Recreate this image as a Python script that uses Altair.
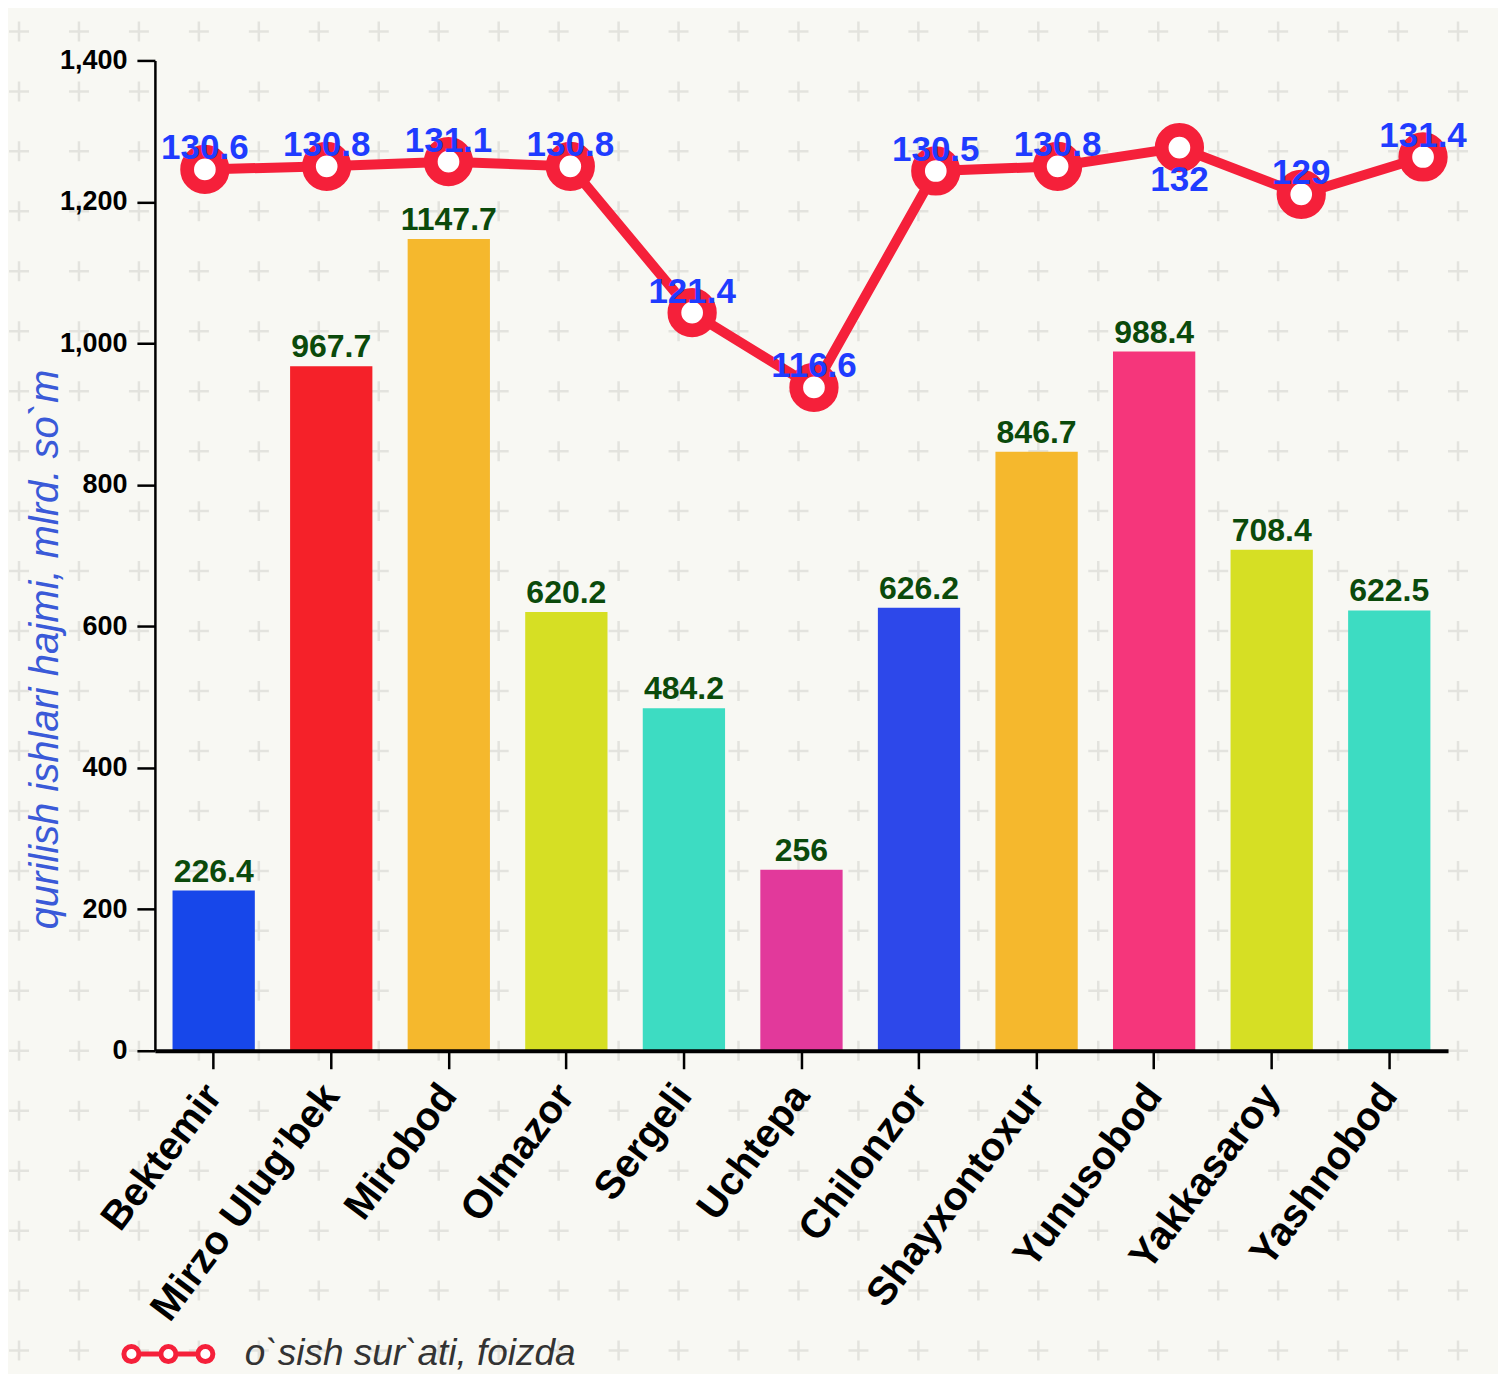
import altair as alt
import pandas as pd
import numpy as np

# ---------------- data ----------------
districts = ["Bektemir", "Mirzo Ulug’bek", "Mirobod", "Olmazor", "Sergeli", "Uchtepa",
             "Chilonzor", "Shayxontoxur", "Yunusobod", "Yakkasaroy", "Yashnobod"]
volume = [226.4, 967.7, 1147.7, 620.2, 484.2, 256, 626.2, 846.7, 988.4, 708.4, 622.5]
growth = [130.6, 130.8, 131.1, 130.8, 121.4, 116.6, 130.5, 130.8, 132, 129, 131.4]
bar_colors = ["#1747ea", "#f52129", "#f5b82d", "#d6df24", "#3ddcc2", "#e2399b",
              "#2d48ea", "#f5b82d", "#f5367b", "#d6df24", "#3ddcc2"]
y_ticks = [0, 200, 400, 600, 800, 1000, 1200, 1400]
y_title = "qurilish ishlari hajmi, mlrd. so`m"
legend_label = "o`sish sur`ati, foizda"

# ---------------- style ----------------
FONT = "Liberation Sans"
RED = "#f5203a"
W, H = 1294, 991

df = pd.DataFrame({
    "district": districts,
    "volume": volume,
    "growth": growth,
    "vol_label": ["{:g}".format(v) for v in volume],
    "gr_label": ["{:g}".format(v) for v in growth],
    "series": [legend_label] * len(districts),
})

# decorative "+" background pattern
cols, rows = np.meshgrid(np.arange(25), np.arange(23))
grid = pd.DataFrame({"cx": cols.ravel(), "cy": rows.ravel()})
cross = alt.Chart(grid).mark_point(
    shape="M-1,0H1M0,-1V1", size=400, strokeWidth=2.5, stroke="#e3e3de",
    filled=False, opacity=1
).encode(
    x=alt.X("cx:Q", scale=alt.Scale(domain=[0, 24], range=[-136, 1304], nice=False, zero=False), axis=None),
    y=alt.Y("cy:Q", scale=alt.Scale(domain=[0, 22], range=[-29, 1291], nice=False, zero=False), axis=None),
)

# ---------------- bars ----------------
xb = alt.X("district:N", sort=districts,
           scale=alt.Scale(paddingInner=0.3, paddingOuter=0.15),
           axis=alt.Axis(title=None, labelAngle=-53, labelAlign="right", labelBaseline="middle",
                         labelFont=FONT, labelFontSize=40, labelFontWeight="bold", labelColor="black",
                         labelPadding=20, labelLimit=600, labelOverlap=False,
                         tickSize=18, tickWidth=2.5, tickColor="black",
                         domainColor="black", domainWidth=4, zindex=1))
yb = alt.Y("volume:Q", scale=alt.Scale(domain=[0, 1400], nice=False),
           axis=alt.Axis(values=y_ticks, format=",.0f", grid=False,
                         title=y_title, titleFont=FONT, titleFontSize=40, titleFontStyle="italic",
                         titleFontWeight="normal", titleColor="#3a5ad8",
                         titleX=-97, titleY=589, titleAlign="center", titleBaseline="alphabetic",
                         labelFont=FONT, labelFontSize=27, labelFontWeight="bold", labelColor="black",
                         labelPadding=10, tickSize=18, tickWidth=2.5, tickColor="black",
                         domainColor="black", domainWidth=2.5, zindex=1))

bars = alt.Chart(df).mark_bar(opacity=1).encode(
    x=xb, y=yb,
    color=alt.Color("district:N", scale=alt.Scale(domain=districts, range=bar_colors), legend=None),
)
bar_text = alt.Chart(df).mark_text(
    dy=-9, baseline="alphabetic", font=FONT, fontSize=32, fontWeight="bold", color="#0b4a0b"
).encode(x=xb, y=yb, text="vol_label:N")

# ---------------- growth line ----------------
xl = alt.X("district:N", sort=districts,
           scale=alt.Scale(type="point", range=[50, 1269], padding=0), axis=None)
yl = alt.Y("growth:Q", scale=alt.Scale(domain=[74, 137.6], nice=False, zero=False), axis=None)

line = alt.Chart(df).mark_line(color=RED, strokeWidth=10, opacity=1).encode(x=xl, y=yl)
points = alt.Chart(df).mark_point(
    shape="circle", filled=True, fill="white", stroke=RED, strokeWidth=13.8, size=1260, opacity=1
).encode(x=xl, y=yl)
lab_style = dict(font=FONT, fontSize=35, fontWeight="bold", color="#1f3cff")
lab_above = alt.Chart(df).transform_filter("datum.district != 'Yunusobod'").mark_text(
    dy=-10, baseline="alphabetic", **lab_style).encode(x=xl, y=yl, text="gr_label:N")
lab_below = alt.Chart(df).transform_filter("datum.district == 'Yunusobod'").mark_text(
    dy=15, baseline="top", **lab_style).encode(x=xl, y=yl, text="gr_label:N")

# ---------------- legend ----------------
LEG_PATH = ("M-0.947,0A0.16,0.16,0,1,0,-0.627,0A0.16,0.16,0,1,0,-0.947,0Z"
            "M-0.16,0A0.16,0.16,0,1,0,0.16,0A0.16,0.16,0,1,0,-0.16,0Z"
            "M0.627,0A0.16,0.16,0,1,0,0.947,0A0.16,0.16,0,1,0,0.627,0Z"
            "M-0.627,0L-0.16,0M0.16,0L0.627,0")
legend_layer = alt.Chart(df).transform_filter("false").mark_point(
    shape=LEG_PATH, filled=True, fill="white", strokeWidth=5, size=8836, opacity=1
).encode(
    stroke=alt.Stroke("series:N", scale=alt.Scale(domain=[legend_label], range=[RED]),
                      legend=alt.Legend(title=None, orient="none", legendX=-36, legendY=1245,
                                        symbolType=LEG_PATH, symbolSize=8836, symbolStrokeWidth=5,
                                        symbolFillColor="white", labelFont=FONT, labelFontSize=37,
                                        labelFontStyle="italic", labelColor="#333333",
                                        labelOffset=27, padding=0, labelLimit=800))
)

chart = alt.layer(
    cross,
    alt.layer(bars, bar_text),
    alt.layer(line, points, lab_above, lab_below),
    legend_layer,
).resolve_scale(x="independent", y="independent").properties(
    width=W, height=H,
    autosize=alt.AutoSizeParams(type="none"),
    padding={"left": 147, "top": 52, "right": 50, "bottom": 330},
    background="#f8f8f3",
).configure_view(stroke=None)

chart.save("out.html", embed_options={"renderer": "svg", "actions": False})
